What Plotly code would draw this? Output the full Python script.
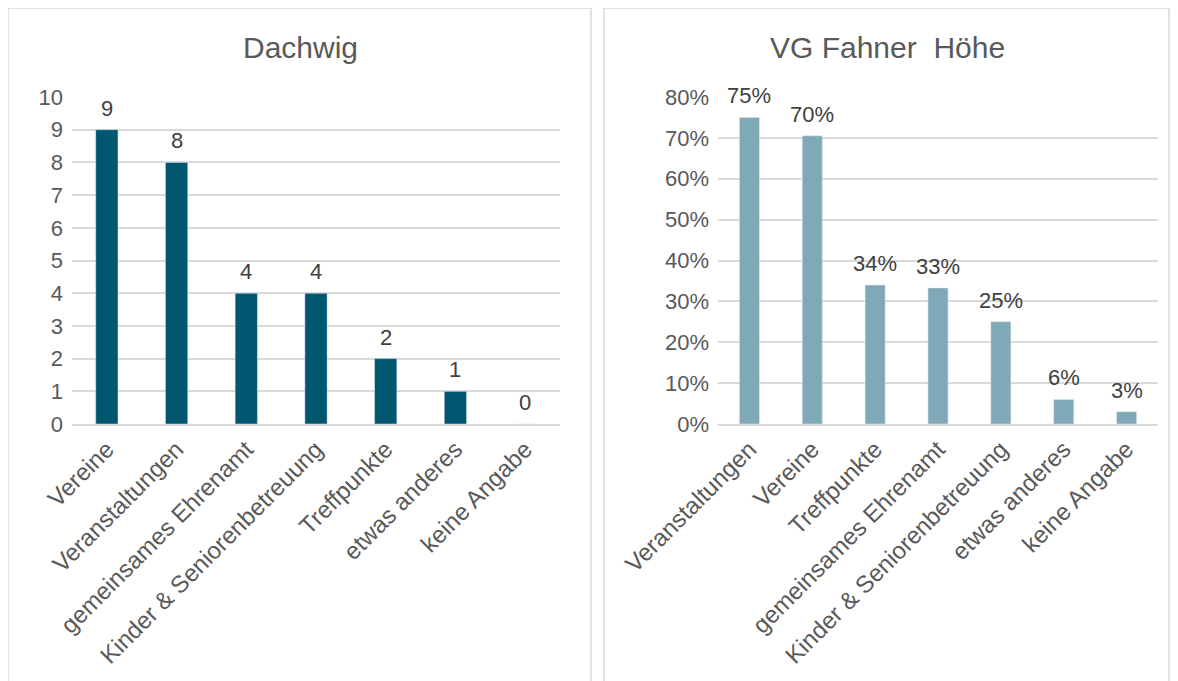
import plotly.graph_objects as go

# The page body has an 8px margin, so the figure is drawn 8px right/down.
OFF = 8
W, H = 1178 - OFF, 681 - OFF

left_categories = ["Vereine", "Veranstaltungen", "gemeinsames Ehrenamt", "Kinder & Seniorenbetreuung",
                   "Treffpunkte", "etwas anderes", "keine Angabe"]
left_values = [9, 8, 4, 4, 2, 1, 0]
left_labels = ["9", "8", "4", "4", "2", "1", "0"]

right_categories = ["Veranstaltungen", "Vereine", "Treffpunkte", "gemeinsames Ehrenamt",
                    "Kinder & Seniorenbetreuung", "etwas anderes", "keine Angabe"]
right_values = [0.75, 0.705, 0.34, 0.333, 0.25, 0.06, 0.03]
right_labels = ["75%", "70%", "34%", "33%", "25%", "6%", "3%"]

left_ticks = list(range(0, 11))
right_ticks = [i / 10 for i in range(0, 9)]

TXT = "#595959"
LBL = "#404040"
GRID = "#D9D9D9"
FONT = "Liberation Sans, Arial, sans-serif"
XTICK_SIZE = 24
YTICK_SIZE = 22
LABEL_SIZE = 22
TITLE_SIZE = 30


def px_x(x):
    return (x - OFF) / W


def px_y(y):
    return 1 - (y - OFF) / H


fig = go.Figure()
fig.add_trace(go.Bar(x=left_categories, y=left_values, marker_color="#00566E", width=0.32,
                     xaxis="x", yaxis="y", showlegend=False, hoverinfo="skip"))
fig.add_trace(go.Bar(x=right_categories, y=right_values, marker_color="#7FA9B6", width=0.32,
                     xaxis="x2", yaxis="y2", showlegend=False, hoverinfo="skip"))

annotations = []
for c, v, t in zip(left_categories, left_values, left_labels):
    annotations.append(dict(x=c, y=v, xref="x", yref="y", text=t, showarrow=False,
                            yanchor="bottom", yshift=7,
                            font=dict(size=LABEL_SIZE, color=LBL, family=FONT)))
for c, v, t in zip(right_categories, right_values, right_labels):
    annotations.append(dict(x=c, y=v, xref="x2", yref="y2", text=t, showarrow=False,
                            yanchor="bottom", yshift=7,
                            font=dict(size=LABEL_SIZE, color=LBL, family=FONT)))
annotations += [
    dict(text="Dachwig", x=px_x(300), y=px_y(47), xref="paper", yref="paper", showarrow=False,
         font=dict(size=TITLE_SIZE, color=TXT, family=FONT), xanchor="center", yanchor="middle"),
    dict(text="VG Fahner  Höhe", x=px_x(887), y=px_y(47), xref="paper", yref="paper", showarrow=False,
         font=dict(size=TITLE_SIZE, color=TXT, family=FONT), xanchor="center", yanchor="middle"),
]

ydom = [px_y(424), px_y(97)]
common_x = dict(tickangle=-45, tickfont=dict(size=XTICK_SIZE, color=TXT, family=FONT), showgrid=False,
                showline=True, linecolor=GRID, linewidth=1.5, ticks="", fixedrange=True, automargin=False)
common_y = dict(tickfont=dict(size=YTICK_SIZE, color=TXT, family=FONT), showgrid=True, gridcolor=GRID,
                gridwidth=1.5, zeroline=False, showline=False, ticks="", fixedrange=True, automargin=False,
                ticklabelstandoff=8)

fig.update_layout(
    width=W, height=H,
    margin=dict(l=0, r=0, t=0, b=0, autoexpand=False),
    paper_bgcolor="white", plot_bgcolor="white",
    font=dict(family=FONT, color=TXT),
    xaxis=dict(domain=[px_x(72), px_x(560)], anchor="y", **common_x),
    yaxis=dict(domain=ydom, anchor="x", range=[0, 10], tickvals=left_ticks, **common_y),
    xaxis2=dict(domain=[px_x(718), px_x(1158)], anchor="y2", **common_x),
    yaxis2=dict(domain=ydom, anchor="x2", range=[0, 0.8], tickvals=right_ticks, tickformat=".0%", **common_y),
    annotations=annotations,
    shapes=[
        dict(type="rect", xref="paper", yref="paper", x0=px_x(8), x1=px_x(591), y0=px_y(700), y1=px_y(8),
             line=dict(color="#D9D9D9", width=1.5), fillcolor="rgba(0,0,0,0)", layer="below"),
        dict(type="rect", xref="paper", yref="paper", x0=px_x(604), x1=px_x(1169), y0=px_y(700), y1=px_y(8),
             line=dict(color="#D9D9D9", width=1.5), fillcolor="rgba(0,0,0,0)", layer="below"),
    ],
)

fig.write_html("out.html")
